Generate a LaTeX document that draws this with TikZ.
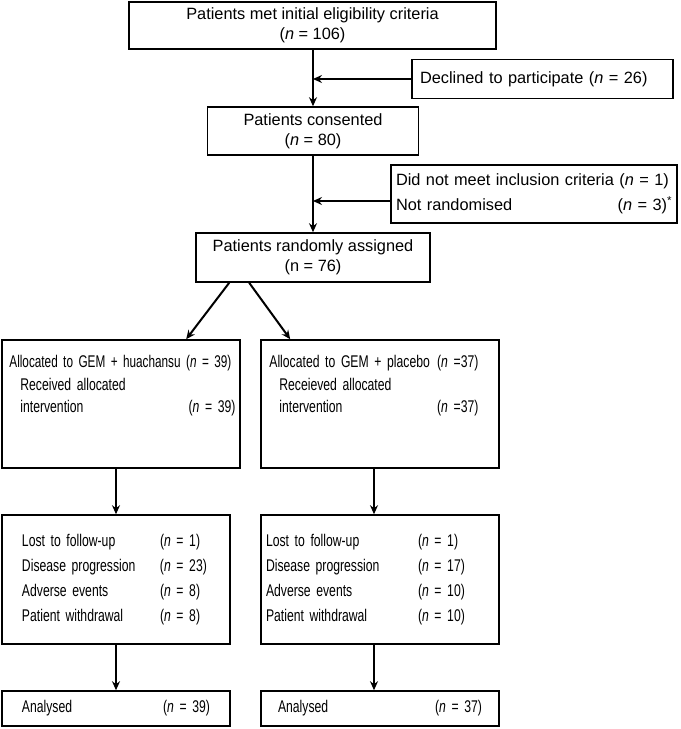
\documentclass[tikz,border=0pt]{standalone}
\usepackage{fontspec}
\setmainfont{Liberation Sans}
\newfontfamily\narrowfont[FakeStretch=0.72]{Liberation Sans}
\usetikzlibrary{arrows.meta,positioning}
\newcommand{\nn}{\textit{n}}
\newcommand{\narrowsize}[1]{\narrowfont\fontsize{17}{#1}\selectfont}

\begin{document}
\begin{tikzpicture}[x=1bp,y=-1bp,
  every node/.style={font=\fontsize{16.4}{20}\selectfont},
  small/.style={font=\narrowsize{22.5}},
  box/.style={draw,line width=1.6pt,inner sep=0pt,align=center},
  boxtxt/.style={inner sep=0pt,align=left},
  flow/.style={line width=2bp,-{Stealth[length=9pt,width=8pt]}}]
  \useasboundingbox (0,0) rectangle (681,729);

  % enrolment
  \node[box,minimum width=367bp,minimum height=47bp] (met) at (312.5,25.5)
    {Patients met initial eligibility criteria\\(\nn{} = 106)};
  \node[box,minimum height=39bp,text width=245bp,align=left,inner xsep=8bp] (declined) at (542.5,79)
    {Declined to participate (\nn{} = 26)};
  \node[box,minimum width=211bp,minimum height=48bp] (consented) at (313,131)
    {Patients consented\\(\nn{} = 80)};
  \node[box,minimum height=58bp,text width=276bp,align=left,inner xsep=5bp,
    font=\fontsize{16.4}{25}\selectfont] (excluded) at (534,194)
    {Did not meet inclusion criteria (\nn{} = 1)\\Not randomised\hfill(\nn{} = 3)\textsuperscript{*}};
  \node[box,minimum width=234bp,minimum height=49bp] (assigned) at (313,257.5)
    {Patients randomly assigned\\(n = 76)};

  % allocation
  \node[box,minimum width=238bp,minimum height=128bp] (allocL) at (121,404) {};
  \node[box,minimum width=238bp,minimum height=128bp] (allocR) at (380,404) {};
  \node[boxtxt,small,text width=226bp,
    below right=16bp and 8bp of allocL.north west] (allocLtxt)
    {\scalebox{0.965}[1]{Allocated to GEM + huachansu (\nn{} = 39)}\\
     \hspace*{11bp}Received allocated\\
     \hspace*{11bp}intervention\hfill(\nn{} = 39)};
  \node[boxtxt,small,text width=209bp,
    below right=16bp and 9bp of allocR.north west] (allocRtxt)
    {Allocated to GEM + placebo\hfill(\nn{} =37)\\
     \hspace*{10bp}Receieved allocated\\
     \hspace*{10bp}intervention\hfill(\nn{} =37)};

  % follow-up
  \node[box,minimum height=129bp,text width=188bp,align=left,inner xsep=20bp,
    font=\narrowsize{25.3}] (lostL) at (116,579.5)
    {\makebox[138bp][l]{Lost to follow-up}(\nn{} = 1)\\
     \makebox[138bp][l]{Disease progression}(\nn{} = 23)\\
     \makebox[138bp][l]{Adverse events}(\nn{} = 8)\\
     \makebox[138bp][l]{Patient withdrawal}(\nn{} = 8)};
  \node[box,minimum height=129bp,text width=228bp,align=left,inner xsep=5bp,
    font=\narrowsize{25.3}] (lostR) at (380,579.5)
    {\makebox[152bp][l]{Lost to follow-up}(\nn{} = 1)\\
     \makebox[152bp][l]{Disease progression}(\nn{} = 17)\\
     \makebox[152bp][l]{Adverse events}(\nn{} = 10)\\
     \makebox[152bp][l]{Patient withdrawal}(\nn{} = 10)};

  % analysis
  \node[box,small,minimum height=35bp,text width=188bp,align=left,inner xsep=20bp] (anaL) at (116,708.5)
    {Analysed\hfill(\nn{} = 39)};
  \node[box,small,minimum height=35bp,text width=204bp,align=left,inner xsep=17bp] (anaR) at (380,708.5)
    {Analysed\hfill(\nn{} = 37)};

  \draw[flow] (met.south -| consented.north) -- (consented.north);
  \draw[flow] (declined.west) -- (declined.west -| consented.north);
  \draw[flow] (consented.south) -- (consented.south |- assigned.north);
  \draw[flow] ([yshift=-7bp]excluded.west) -- ([yshift=-7bp]excluded.west -| consented.south);
  \draw[flow] ([xshift=34bp]assigned.south west) -- ([xshift=185bp]allocL.north west);
  \draw[flow] ([xshift=54bp]assigned.south west) -- ([xshift=30bp]allocR.north west);
  \draw[flow] (lostL.north |- allocL.south) -- (lostL.north);
  \draw[flow] ([xshift=-6bp]allocR.south) -- ([xshift=-6bp]lostR.north);
  \draw[flow] (lostL.south) -- (lostL.south |- anaL.north);
  \draw[flow] ([xshift=-6bp]lostR.south) -- ([xshift=-6bp]anaR.north);
\end{tikzpicture}
\end{document}
